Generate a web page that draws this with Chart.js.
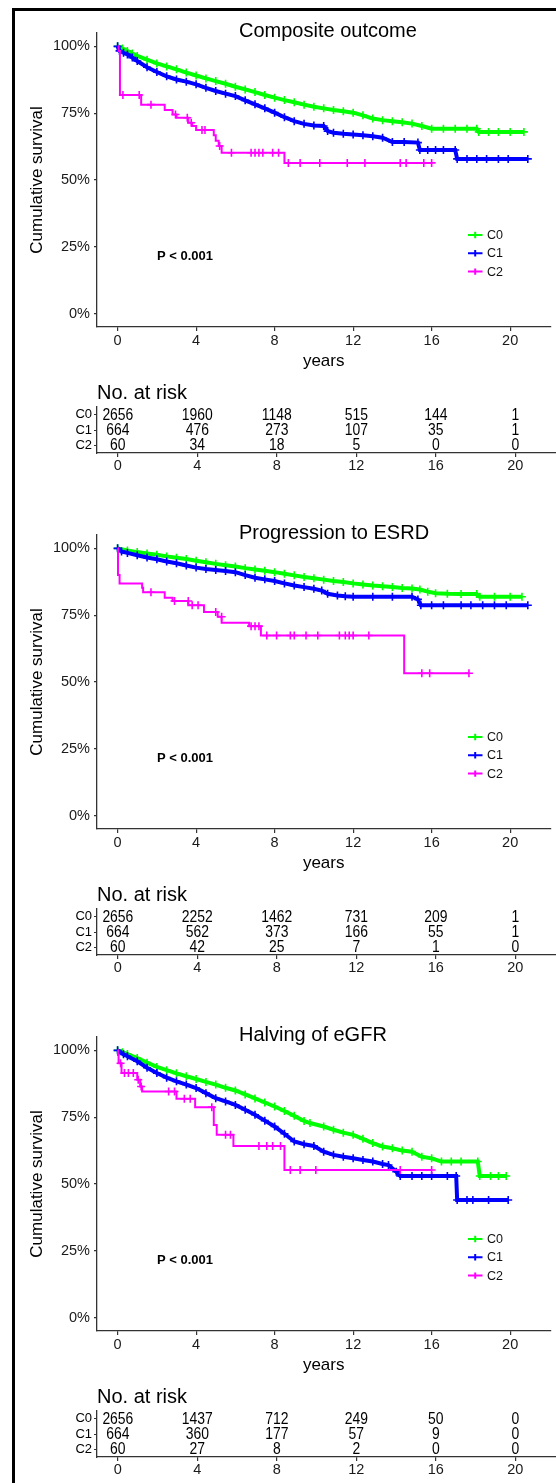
<!DOCTYPE html>
<html lang="en">
<head>
<meta charset="UTF-8">
<title>Survival by cluster</title>
<script src="https://cdn.jsdelivr.net/npm/chart.js@4.4.0/dist/chart.umd.min.js"></script>
<style>
  body { margin: 0; background: #fff; }
  #page { position: relative; width: 556px; height: 1483px; overflow: hidden; background: #fff; }
  #frame { position: absolute; left: 12px; top: 8px; width: 700px; height: 1600px;
           border-left: 3px solid #000; border-top: 3px solid #000; }
  canvas { position: absolute; left: 0; }
</style>
</head>
<body>
<div id="page">
  <div id="frame"></div>
  <canvas id="km0" width="556" height="372" style="top:0px"></canvas>
  <canvas id="risk0" width="556" height="108" style="top:372px"></canvas>
  <canvas id="km1" width="556" height="372" style="top:502px"></canvas>
  <canvas id="risk1" width="556" height="108" style="top:874px"></canvas>
  <canvas id="km2" width="556" height="372" style="top:1004px"></canvas>
  <canvas id="risk2" width="556" height="108" style="top:1376px"></canvas>
</div>

<script>
const FONT = "'Liberation Sans', Arial, Helvetica, sans-serif";

const groups = ['C0', 'C1', 'C2'];
const xTicks = [0, 4, 8, 12, 16, 20];
const yTicks = [0, 25, 50, 75, 100];
const riskTimes = [0, 4, 8, 12, 16, 20];

// Composite outcome: [years, survival %]
const compositeC0 = [[0,100],[0.25,99.2],[0.5,98.3],[0.75,97.3],[1,96.4],[1.5,95],[2,93.6],[2.5,92.5],[3,91.4],[3.5,90.2],[4,89.1],[4.5,88],[5,87],[5.5,86],[6,84.9],[6.5,83.9],[7,82.9],[7.5,81.8],[8,80.8],[8.5,79.9],[9,79.1],[9.5,78.2],[10,77.4],[10.5,76.8],[11,76.2],[11.5,75.7],[12,75.2],[12.5,74.2],[13,73],[13.5,72.4],[14,72],[14.5,71.6],[15,71.1],[15.5,70.2],[16,69.2],[16.6,69.2],[17.2,69.2],[17.8,69.2],[18.3,69.2],[18.4,68],[18.9,68],[19.4,68],[20,68],[20.7,68]];
const compositeC1 = [[0,100],[0.1,98.3],[0.3,97.6],[0.5,97],[0.75,95.8],[1,94.5],[1.5,92.2],[2,90.4],[2.5,88.8],[3,87.6],[3.5,86.8],[4,85.8],[4.5,84.5],[5,83.3],[5.5,82.3],[6,81.4],[6.5,79.8],[7,78.3],[7.5,76.8],[8,75.2],[8.5,73.5],[9,72],[9.5,71],[10,70.4],[10.5,70.2],[10.7,68.3],[11,67.7],[11.5,67.3],[12,67],[12.5,66.7],[13,66.4],[13.5,65.8],[14,64.2],[14.6,64.2],[15.3,64],[15.4,61.2],[15.8,61.2],[16.2,61.2],[16.6,61.2],[17.2,61.2],[17.3,57.9],[17.8,57.9],[18.3,57.9],[18.8,57.9],[19.4,57.9],[19.9,57.9],[20.9,57.9]];
const compositeC2 = [[0,100],[0.05,98.3],[0.12,81.8],[1.2,78.2],[2.4,76.2],[2.8,74.5],[3.0,73.3],[3.6,71.4],[3.8,70.2],[4.0,68.7],[4.9,66.7],[5.0,64.7],[5.15,62.7],[5.3,60.2],[8.5,56.4],[16.0,56.4]];
const compositeC2Censor = [[0.27,81.8],[1.1,81.8],[1.7,78.2],[2.95,74.5],[3.55,73.3],[3.75,71.4],[4.3,68.7],[4.45,68.7],[5.2,62.7],[5.8,60.2],[6.8,60.2],[7.0,60.2],[7.2,60.2],[7.4,60.2],[7.9,60.2],[8.2,60.2],[8.7,56.4],[9.3,56.4],[10.3,56.4],[11.7,56.4],[12.6,56.4],[14.4,56.4],[14.7,56.4],[15.6,56.4],[16.0,56.4]];
const compositeRisk = [[2656,1960,1148,515,144,1],[664,476,273,107,35,1],[60,34,18,5,0,0]];

// Progression to ESRD
const esrdC0 = [[0,100],[0.5,99.2],[1,98.6],[1.5,98.1],[2,97.6],[2.5,97],[3,96.5],[3.5,96],[4,95.4],[4.5,94.8],[5,94.2],[5.5,93.7],[6,93.2],[6.5,92.6],[7,92.1],[7.5,91.6],[8,91.1],[8.5,90.5],[9,89.9],[9.5,89.3],[10,88.8],[10.5,88.3],[11,87.8],[11.5,87.4],[12,86.9],[12.5,86.5],[13,86.1],[13.5,85.8],[14,85.5],[14.5,85.2],[15,85],[15.4,84.6],[15.8,83.8],[16.2,83.2],[16.8,83],[17.5,82.9],[18.3,82.9],[18.45,81.9],[19.2,81.9],[20,81.9],[20.6,81.9]];
const esrdC1 = [[0,100],[0.2,98.8],[0.5,98.3],[1,97.4],[1.5,96.6],[2,95.9],[2.5,95.1],[3,94.4],[3.5,93.6],[4,92.8],[4.5,92.3],[5,91.9],[5.5,91.5],[6,91.1],[6.5,90],[7,89],[7.5,88.4],[8,87.8],[8.5,86.9],[9,86.1],[9.5,85.5],[10,84.9],[10.4,84.2],[10.7,83],[11.2,82.4],[11.6,82.1],[12,81.9],[13,81.9],[14,81.9],[15,81.9],[15.3,80.9],[15.45,78.7],[16,78.7],[16.6,78.7],[17.5,78.7],[18,78.7],[18.6,78.7],[19.2,78.7],[19.8,78.7],[20.9,78.7]];
const esrdC2 = [[0,100],[0.02,90],[0.1,86.9],[1.25,85.3],[1.3,83.6],[2.4,81.5],[2.8,80.3],[3.6,78.7],[4.4,76.2],[5.1,74.4],[5.3,72.2],[6.7,70.9],[7.3,67.4],[14.6,53.3],[17.9,53.3]];
const esrdC2Censor = [[1.7,83.6],[2.9,80.3],[3.6,80.3],[3.8,78.7],[4.1,78.7],[5.0,76.2],[5.3,74.4],[6.8,70.9],[7.0,70.9],[7.2,70.9],[7.6,67.4],[8.1,67.4],[8.8,67.4],[9.0,67.4],[9.6,67.4],[10.2,67.4],[11.3,67.4],[11.6,67.4],[11.8,67.4],[12.0,67.4],[12.8,67.4],[15.5,53.3],[15.9,53.3],[17.9,53.3]];
const esrdRisk = [[2656,2252,1462,731,209,1],[664,562,373,166,55,1],[60,42,25,7,1,0]];

// Halving of eGFR
const egfrC0 = [[0,100],[0.25,99.3],[0.5,98.6],[1,97.1],[1.5,95.4],[2,93.8],[2.5,92.6],[3,91.4],[3.5,90.3],[4,89.3],[4.5,88.2],[5,87.2],[5.5,86],[6,85],[6.5,83.5],[7,82],[7.5,80.5],[8,79],[8.5,77.3],[9,75.5],[9.5,73.6],[9.8,72.8],[10.5,71.5],[11,70.3],[11.5,69.2],[12,68.4],[12.5,66.9],[13,65.3],[13.5,64],[14,63.4],[14.5,62.5],[15,62.1],[15.5,60.2],[16,59.6],[16.5,58.4],[17,58.4],[17.5,58.4],[18.35,58.4],[18.45,53],[19,53],[19.4,53],[19.8,53]];
const egfrC1 = [[0,100],[0.3,98.5],[0.5,97.8],[1,95.9],[1.5,93.5],[2,91.5],[2.5,89.8],[3,88.4],[3.5,87.2],[4,85.9],[4.5,84],[5,82.1],[5.5,80.9],[6,79.6],[6.5,77.8],[7,75.9],[7.5,73.7],[8,71.5],[8.5,68.8],[9,65.9],[9.5,64.9],[10,64.25],[10.5,62.1],[11,60.9],[11.5,60.2],[12,59.6],[12.5,59],[13,58.4],[13.5,57.5],[13.8,57.1],[14.2,54.6],[14.4,53],[15,53],[15.5,53],[16,53],[16.8,53],[17.25,53],[17.3,44],[17.8,44],[18.1,44],[18.9,44],[19.9,44]];
const egfrC2 = [[0,100],[0.02,98.3],[0.05,95.2],[0.2,91.5],[1.0,89],[1.15,86.5],[1.25,84.6],[3.0,81.9],[3.95,78.75],[4.9,72.1],[5.05,68.4],[5.9,64.25],[8.5,55.25],[16.0,55.25]];
const egfrC2Censor = [[0.15,95.2],[0.35,91.5],[0.55,91.5],[0.8,91.5],[1.05,89],[1.2,86.5],[2.6,84.6],[2.9,84.6],[3.4,81.9],[3.7,81.9],[4.8,78.75],[5.5,68.4],[5.75,68.4],[7.2,64.25],[7.6,64.25],[7.9,64.25],[8.3,64.25],[8.8,55.25],[9.3,55.25],[10.1,55.25],[14.4,55.25],[16.0,55.25]];
const egfrRisk = [[2656,1437,712,249,50,0],[664,360,177,57,9,0],[60,27,8,2,0,0]];

const colors = ['#00ff00', '#0000ff', '#ff00ff'];

const panels = [
  { title: 'Composite outcome', curves: [compositeC0, compositeC1, compositeC2], censor: compositeC2Censor, risk: compositeRisk },
  { title: 'Progression to ESRD', curves: [esrdC0, esrdC1, esrdC2], censor: esrdC2Censor, risk: esrdRisk },
  { title: 'Halving of eGFR', curves: [egfrC0, egfrC1, egfrC2], censor: egfrC2Censor, risk: egfrRisk }
];

function toPts(a) { return a.map(p => ({ x: p[0], y: p[1] })); }

// title, p-value and legend inside the plot
const kmExtras = {
  id: 'kmExtras',
  afterDraw(chart, args, opts) {
    const ctx = chart.ctx;
    const a = chart.chartArea;
    ctx.save();
    ctx.fillStyle = '#000';
    ctx.font = '20px ' + FONT;
    ctx.textAlign = 'left';
    ctx.textBaseline = 'alphabetic';
    ctx.fillText(opts.title, 239, 36.5);

    ctx.font = 'bold 13px ' + FONT;
    ctx.textBaseline = 'middle';
    ctx.fillText('P < 0.001', a.left + 60, a.top + 223);

    ctx.font = '12.5px ' + FONT;
    groups.forEach((g, i) => {
      const y = a.top + 202 + i * 18.3;
      const x0 = a.left + 371;
      ctx.strokeStyle = colors[i];
      ctx.lineWidth = 2;
      ctx.beginPath();
      ctx.moveTo(x0, y); ctx.lineTo(x0 + 14.5, y);
      ctx.moveTo(x0 + 7.2, y - 3.2); ctx.lineTo(x0 + 7.2, y + 3.2);
      ctx.stroke();
      ctx.fillStyle = '#111';
      ctx.fillText(g, x0 + 19, y + 0.5);
    });
    ctx.restore();
  }
};

const riskNumbers = {
  id: 'riskNumbers',
  afterDraw(chart, args, opts) {
    const ctx = chart.ctx;
    const xs = chart.scales.x, ys = chart.scales.y;
    ctx.save();
    ctx.fillStyle = '#000';
    ctx.font = '16px ' + FONT;
    ctx.textAlign = 'center';
    ctx.textBaseline = 'middle';
    opts.risk.forEach((row, gi) => {
      row.forEach((n, ti) => {
        const x = xs.getPixelForValue(riskTimes[ti]);
        const y = ys.getPixelForValue(gi);
        ctx.save();
        ctx.translate(x, y + 0.5);
        ctx.scale(0.87, 1);
        ctx.fillText(String(n), 0, 0);
        ctx.restore();
      });
    });
    ctx.restore();
  }
};

function xScale(height, pad) {
  return {
    type: 'linear', min: -1.05, max: 22.05,
    afterBuildTicks: s => { s.ticks = xTicks.map(v => ({ value: v })); },
    afterFit: s => { s.height = height; },
    grid: { drawOnChartArea: false, drawTicks: true, tickLength: 4, color: '#333', lineWidth: 1.2 },
    border: { display: true, color: '#333', width: 1.3 },
    ticks: { font: { family: FONT, size: 14.5 }, color: '#1a1a1a', padding: pad, maxRotation: 0 }
  };
}

function bandSet(pts, color, order) {
  return { data: toPts(pts), showLine: true, borderWidth: 4, borderColor: color,
           pointStyle: 'cross', pointRadius: 4, pointBorderWidth: 1.6,
           pointBorderColor: color, pointBackgroundColor: color, order: order };
}

panels.forEach((p, k) => {
  const xs = xScale(45, 1);
  xs.title = { display: true, text: 'years', color: '#000', font: { family: FONT, size: 17 }, padding: { top: 0, bottom: 0 } };

  new Chart(document.getElementById('km' + k), {
    type: 'scatter',
    data: {
      datasets: [
        { data: toPts(p.censor), showLine: false, pointStyle: 'cross', pointRadius: 4,
          pointBorderWidth: 1.6, borderColor: colors[2], pointBorderColor: colors[2], order: 0 },
        { data: toPts(p.curves[2]), showLine: true, stepped: true, borderWidth: 2, pointRadius: 0,
          borderColor: colors[2], order: 1 },
        bandSet(p.curves[1], colors[1], 2),
        bandSet(p.curves[0], colors[0], 3)
      ]
    },
    options: {
      responsive: false, animation: false, devicePixelRatio: 1,
      layout: { padding: { left: 0, right: 0, top: 33, bottom: 0 } },
      plugins: {
        legend: { display: false }, tooltip: { enabled: false },
        kmExtras: { title: p.title }
      },
      scales: {
        x: xs,
        y: {
          type: 'linear', min: -5, max: 105,
          afterBuildTicks: s => { s.ticks = yTicks.map(v => ({ value: v })); },
          afterFit: s => { s.width = 97; },
          grid: { drawOnChartArea: false, drawTicks: true, tickLength: 3, color: '#333', lineWidth: 1.2 },
          border: { display: true, color: '#333', width: 1.3 },
          ticks: { font: { family: FONT, size: 14.5 }, color: '#1a1a1a', padding: 4, callback: v => v + '%' },
          title: { display: true, text: 'Cumulative survival', color: '#000',
                   font: { family: FONT, size: 17 }, padding: { top: 27, bottom: 0 } }
        }
      }
    },
    plugins: [kmExtras]
  });

  new Chart(document.getElementById('risk' + k), {
    type: 'scatter',
    data: { datasets: [] },
    options: {
      responsive: false, animation: false, devicePixelRatio: 1,
      layout: { padding: 0 },
      plugins: {
        legend: { display: false }, tooltip: { enabled: false },
        title: { display: true, text: 'No. at risk', align: 'start', fullSize: false, color: '#000',
                 font: { family: FONT, size: 20, weight: 'normal' }, padding: { top: 9, bottom: 2 } },
        riskNumbers: { risk: p.risk }
      },
      scales: {
        x: xScale(27, 0),
        y: {
          type: 'category', labels: groups, offset: true, min: 0, max: 2,
          afterFit: s => { s.width = 97; },
          grid: { drawOnChartArea: false, drawTicks: true, tickLength: 3, color: '#333', lineWidth: 1 },
          border: { display: true, color: '#333', width: 1.3 },
          ticks: { font: { family: FONT, size: 13 }, color: '#000', padding: 2, autoSkip: false }
        }
      }
    },
    plugins: [riskNumbers]
  });
});
</script>
</body>
</html>
